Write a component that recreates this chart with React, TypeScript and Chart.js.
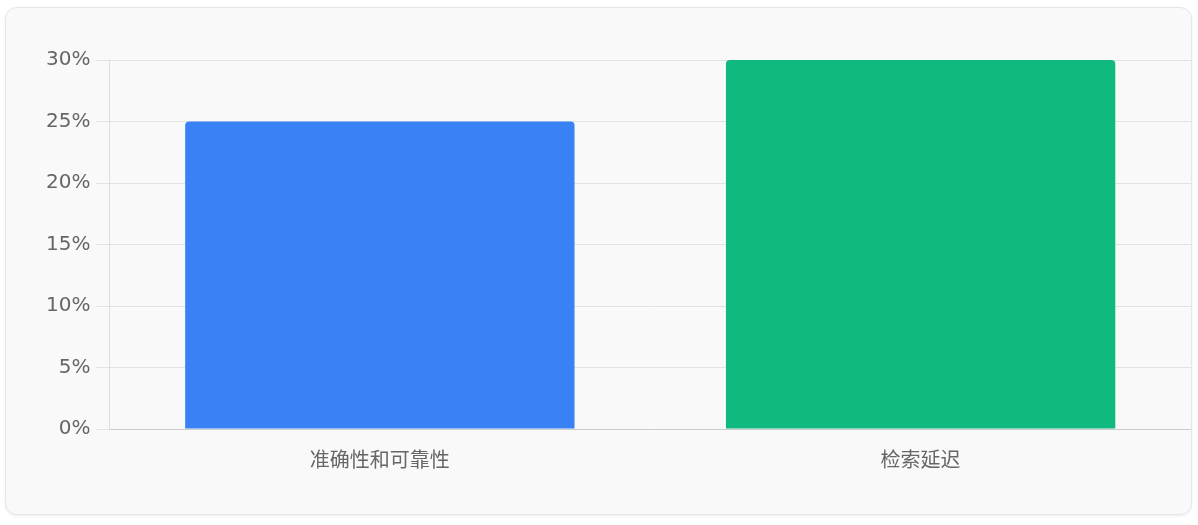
import React, { useEffect, useRef } from 'react';
import { Chart, registerables } from 'chart.js';

Chart.register(...registerables);

const categories = ['准确性和可靠性', '检索延迟'];
const values = [25, 30];
const barColors = ['#3882f6', '#10b97d'];
const yTicks = [0, 5, 10, 15, 20, 25, 30];

const App = () => {
  const canvasRef = useRef<HTMLCanvasElement>(null);

  useEffect(() => {
    const canvas = canvasRef.current;
    let chart: Chart<'bar', number[], string> | null = null;

    if (canvas) {
      chart = new Chart(canvas, {
        type: 'bar',
        data: {
          labels: categories,
          datasets: [
            {
              data: values,
              backgroundColor: barColors,
              borderRadius: 4,
              borderSkipped: 'bottom',
            },
          ],
        },
        options: {
          animation: false,
          responsive: true,
          maintainAspectRatio: false,
          layout: { padding: { top: 52, left: 34, right: 0, bottom: 27 } },
          plugins: {
            legend: { display: false },
            tooltip: { enabled: false },
          },
          scales: {
            x: {
              grid: { display: false },
              border: { color: '#cccccc' },
              ticks: {
                color: '#666666',
                padding: 13,
                font: { family: '"DejaVu Sans", "Noto Sans CJK SC", sans-serif', size: 20 },
              },
            },
            y: {
              min: yTicks[0],
              max: yTicks[yTicks.length - 1],
              grid: { color: '#e2e2e2', tickLength: 13 },
              border: { color: '#dddddd' },
              ticks: {
                stepSize: yTicks[1] - yTicks[0],
                color: '#666666',
                padding: 6,
                font: { family: '"DejaVu Sans", "Noto Sans CJK SC", sans-serif', size: 20 },
                callback: (v) => `${v}%`,
              },
            },
          },
        },
      });
    }

    return () => {
      if (chart) {
        chart.destroy();
      }
    };
  }, []);

  return (
    <div
      style={{
        position: 'absolute',
        left: 5,
        top: 7,
        width: 1187,
        height: 508,
        boxSizing: 'border-box',
        background: '#f9f9f9',
        border: '1px solid #e6e6e6',
        borderRadius: 12,
        boxShadow: '0 1px 3px rgba(0,0,0,0.08)',
      }}
    >
      <canvas ref={canvasRef}></canvas>
    </div>
  );
};

export default App;
